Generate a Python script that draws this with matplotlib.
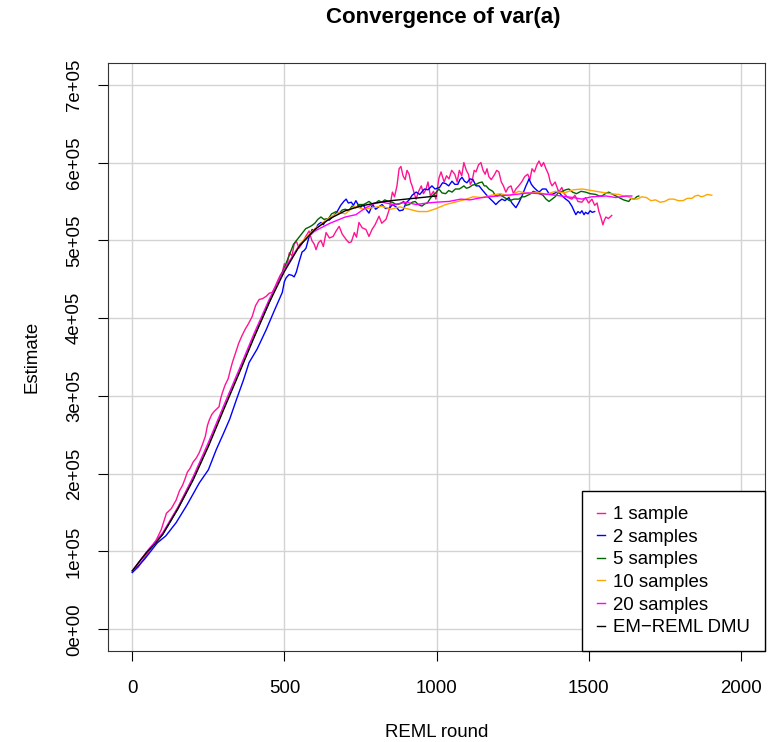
import matplotlib
matplotlib.use("Agg")
import matplotlib.pyplot as plt

plt.rcParams['font.family'] = ['Liberation Sans', 'DejaVu Sans']

# values in 1000s
x_dmu = [0, 25, 50, 75, 100, 150, 200, 250, 300, 350, 400, 450, 500, 550, 600, 650, 700, 750, 800, 850, 900, 950, 1000]
y_dmu = [75, 88, 100, 110, 122, 155, 192, 235, 282, 328, 375, 420, 460, 493, 514, 528, 538, 544, 548, 551, 553, 555, 557]

x_s1 = [0, 20, 40, 60, 79, 95, 112, 128, 144, 155, 165, 173, 181, 190, 200, 210, 220, 230, 240, 247, 253, 261, 269, 277,
        285, 290, 296, 305, 315, 322, 329, 340, 350, 360, 370, 382, 394, 405, 417, 428, 440, 450, 460, 470, 480, 486,
        493, 500, 508, 516, 525, 532, 539, 548, 560, 570, 581, 590, 598, 604, 612, 620, 628, 637, 648, 660, 670, 680,
        690, 703, 712, 720, 730, 737, 745, 756, 768, 778, 788, 798, 811, 820, 834, 845, 855, 862, 870, 877, 883, 890,
        897, 903, 910, 915, 920, 927, 933, 940, 950, 957, 965, 972, 980, 990, 998, 1008, 1015, 1025, 1033, 1041, 1050,
        1060, 1068, 1075, 1083, 1090, 1098, 1105, 1111, 1117, 1124, 1130, 1138, 1146, 1153, 1160, 1166, 1172, 1180,
        1190, 1198, 1205, 1213, 1220, 1228, 1236, 1245, 1253, 1261, 1270, 1280, 1290, 1300, 1307, 1314, 1322, 1330,
        1337, 1345, 1352, 1360, 1368, 1374, 1380, 1390, 1402, 1412, 1420, 1432, 1445, 1455, 1465, 1478, 1490, 1500,
        1511, 1520, 1528, 1534, 1540, 1547, 1552, 1557, 1565, 1576]
y_s1 = [73, 80, 92, 103, 115, 128, 149, 155, 166, 178, 185, 193, 202, 207, 215, 220, 227, 237, 248, 262, 269, 276, 280, 283,
        286, 296, 304, 314, 322, 333, 343, 356, 368, 377, 385, 393, 402, 416, 424, 425, 428, 432, 433, 441, 450, 455,
        459, 470, 466, 484, 480, 495, 499, 490, 497, 505, 512, 500, 495, 488, 497, 500, 492, 510, 503, 505, 512, 518,
        508, 501, 497, 498, 510, 504, 523, 516, 514, 505, 514, 520, 531, 522, 527, 540, 562, 556, 570, 592, 595, 583,
        578, 590, 585, 575, 570, 560, 553, 562, 570, 560, 565, 575, 557, 563, 553, 580, 588, 575, 583, 579, 590,
        585, 575, 590, 583, 600, 590, 585, 572, 576, 590, 588, 597, 600, 590, 585, 592, 582, 578,
        584, 590, 588, 575, 570, 562, 568, 570, 560, 566, 570, 575, 582, 585, 578, 592, 588, 597,
        602, 595, 600, 592, 585, 575, 570, 575, 562, 568, 560, 555, 553, 558, 550, 549, 555, 548,
        553, 545, 548, 537, 530, 520, 526, 530, 528, 532]

x_s2 = [0, 40, 82, 110, 144, 180, 220, 250, 276, 300, 320, 342, 365, 384, 410, 440, 465, 493, 500, 506, 515, 525, 532, 539,
        548, 558, 565, 571, 580, 591, 600, 610, 620, 628, 637, 648, 660, 672, 685, 695, 703, 710, 720, 727, 735, 742,
        750, 758, 768, 778, 790, 800, 810, 821, 832, 845, 855, 867, 878, 890, 900, 910, 920, 933, 945, 960, 972, 985,
        995, 1010, 1020, 1030, 1040, 1051, 1060, 1070, 1077, 1084, 1092, 1100, 1110, 1120, 1130, 1140, 1150, 1163,
        1172, 1180, 1188, 1195, 1205, 1215, 1225, 1238, 1248, 1261, 1270, 1280, 1287, 1294, 1300, 1304, 1312, 1320,
        1328, 1337, 1348, 1360, 1370, 1380, 1390, 1400, 1413, 1425, 1435, 1445, 1452, 1458, 1465, 1472, 1478, 1485,
        1490, 1498, 1505, 1512, 1520]
y_s2 = [73, 90, 111, 120, 137, 160, 188, 205, 231, 252, 270, 295, 320, 343, 360, 385, 408, 433, 447, 452, 456, 455, 453, 459,
        472, 485, 487, 490, 503, 514, 512, 520, 523, 520, 527, 526, 531, 536, 545, 550, 553, 548, 549, 545, 551, 546,
        542, 546, 540, 535, 546, 540, 543, 546, 541, 541, 546, 543, 538, 539, 548, 552, 558, 562, 559, 566, 565, 570,
        566, 568, 574, 573, 570, 576, 572, 572, 578, 581, 576, 574, 579, 578, 570, 570, 565, 559,
        555, 552, 549, 546, 550, 553, 551, 555, 548, 542, 548, 556, 563, 570, 575, 579, 572, 568,
        565, 562, 566, 566, 560, 559, 561, 563, 557, 553, 550, 544, 538, 533, 537, 535, 538, 533,
        536, 534, 538, 536, 537]

x_s5 = [0, 50, 100, 150, 200, 250, 300, 350, 400, 450, 500, 530, 550, 560, 570, 581, 590, 600, 610, 620, 630, 645, 655, 670,
        680, 690, 700, 712, 722, 735, 745, 760, 770, 778, 788, 800, 810, 820, 830, 842, 855, 867, 880, 892, 900, 910,
        920, 930, 940, 952, 962, 970, 978, 985, 995, 1008, 1018, 1030, 1040, 1051, 1062, 1075, 1083, 1090, 1098, 1107,
        1118, 1130, 1140, 1150, 1157, 1163, 1172, 1185, 1193, 1200, 1208, 1215, 1228, 1240, 1255, 1271, 1280, 1290,
        1300, 1310, 1318, 1327, 1338, 1350, 1360, 1370, 1380, 1390, 1400, 1413, 1425, 1435, 1447, 1460, 1475, 1490,
        1505, 1524, 1535, 1544, 1555, 1566, 1580, 1600, 1615, 1632, 1640, 1650, 1658, 1665]
y_s5 = [75, 100, 122, 155, 193, 237, 284, 330, 376, 420, 465, 495, 505, 510, 515, 517, 519, 522, 527, 530, 527, 528, 534, 537,
        535, 539, 540, 538, 544, 542, 546, 546, 548, 550, 547, 548, 551, 549, 552, 550, 549, 546, 547, 550, 545, 546,
        549, 550, 546, 544, 547, 548, 553, 557, 560, 566, 561, 560, 564, 562, 566, 566, 568, 570, 567, 568,
        571, 572, 574, 575, 570, 570, 566, 563, 558, 557, 559, 557, 554, 551, 553, 553, 556, 556,
        558, 560, 563, 562, 560, 558, 553, 550, 553, 556, 561, 563, 565, 566, 562, 560, 563, 562,
        560, 559, 557, 557, 560, 562, 559, 555, 552, 550, 554, 553, 556, 557]

x_s10 = [0, 50, 100, 150, 200, 250, 300, 350, 400, 450, 500, 550, 600, 640, 680, 700, 730, 760, 790, 820, 850, 880, 910, 940,
         970, 1000, 1030, 1060, 1090, 1120, 1150, 1180, 1210, 1240, 1270, 1300, 1330, 1360, 1390, 1420, 1450, 1480, 1510,
         1540, 1570, 1600, 1615, 1630, 1645, 1660, 1675, 1690, 1705, 1720, 1735, 1750, 1765, 1780, 1795, 1810, 1825,
         1840, 1850, 1860, 1870, 1880, 1890, 1905]
y_s10 = [75, 100, 123, 157, 195, 238, 285, 330, 378, 422, 462, 495, 515, 527, 536, 534, 544, 540, 542, 544, 540, 543, 540, 537,
         537, 541, 546, 549, 552, 556, 555, 558, 560, 557, 563, 560, 562, 559, 563, 561, 565, 566, 564,
         562, 560, 559, 557, 556, 553, 553, 556, 555, 551, 552, 549, 550, 553, 553, 551, 551, 554,
         554, 557, 558, 556, 557, 559, 558]

x_s20 = [0, 50, 100, 150, 200, 250, 300, 350, 400, 450, 500, 550, 600, 650, 700, 735, 768, 800, 821, 860, 900, 933, 970, 998,
         1041, 1080, 1110, 1150, 1200, 1261, 1300, 1340, 1370, 1410, 1450, 1478, 1510, 1557, 1590, 1622, 1642]
y_s20 = [75, 101, 124, 157, 196, 240, 287, 333, 380, 424, 463, 494, 512, 522, 530, 533, 542, 548, 549, 546, 549, 546, 548, 549,
         550, 553, 552, 555, 557, 559, 561, 560, 559, 557, 555, 553, 556, 557, 555, 557, 557]

series = [
    ("1 sample", x_s1, y_s1, "#FF1493"),
    ("2 samples", x_s2, y_s2, "blue"),
    ("5 samples", x_s5, y_s5, "darkgreen"),
    ("10 samples", x_s10, y_s10, "orange"),
    ("20 samples", x_s20, y_s20, "magenta"),
    ("EM\u2212REML DMU", x_dmu, y_dmu, "black"),
]

fs = 13.4

fig = plt.figure(figsize=(7.71, 7.42), dpi=100)
ax = fig.add_axes([108 / 771, 1 - 651 / 742, (765 - 108) / 771, (651 - 63) / 742])

for label, xs, ys, col in series:
    ax.plot(xs, [v * 1000 for v in ys], color=col, lw=1, label=label)

ax.set_xlim(-80, 2080)
ax.set_ylim(-28000, 728000)
xt = [0, 500, 1000, 1500, 2000]
yt = [0, 100000, 200000, 300000, 400000, 500000, 600000, 700000]
ax.set_xticks(xt)
ax.set_yticks(yt)
ax.set_xticklabels([str(v) for v in xt])
ax.set_yticklabels(["%de+05" % (v // 100000) if v else "0e+00" for v in yt], rotation=90, va="center")
ax.grid(True, color="#D3D3D3", lw=1)
ax.set_axisbelow(True)
ax.tick_params(direction="out", length=7, labelsize=fs)
ax.tick_params(axis="x", pad=14)
ax.tick_params(axis="y", pad=11)
for sp in ax.spines.values():
    sp.set_color("#333333")

ax.set_title("Convergence of var(a)", fontsize=16, fontweight="bold", pad=29, x=0.511)
ax.set_xlabel("REML round", fontsize=fs, labelpad=19)
ax.set_ylabel("Estimate", fontsize=fs, labelpad=18)

leg = ax.legend(loc="lower right", borderaxespad=0, fontsize=fs, handlelength=0.43, handletextpad=0.45,
                fancybox=False, edgecolor="black", framealpha=1, labelspacing=0.3, borderpad=0.8)
leg.get_frame().set_linewidth(1)

fig.savefig("out.png", dpi=100)
